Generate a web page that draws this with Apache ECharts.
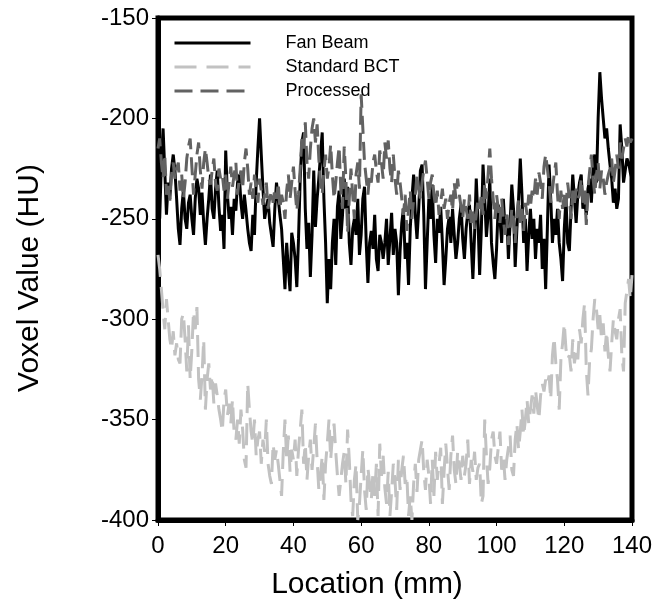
<!DOCTYPE html>
<html>
<head>
<meta charset="utf-8">
<script src="https://cdn.jsdelivr.net/npm/echarts@6/dist/echarts.min.js"></script>
<style>
  html, body { margin: 0; padding: 0; background: #fff; }
  #chart { width: 660px; height: 608px; }
</style>
</head>
<body>
<div id="chart"></div>
<script>
// sampling pitch of the line profile (mm); 281 samples from 0 to 140 mm
var step = 0.5;

var fanBeam = [
  -235, -250, -222, -205, -226, -248, -232, -240, -225, -218,
  -226, -240, -255, -263, -245, -236, -250, -255, -242, -238,
  -250, -258, -240, -230, -235, -248, -237, -252, -263, -250,
  -240, -228, -245, -250, -235, -226, -244, -256, -248, -265,
  -216, -238, -250, -244, -258, -240, -246, -232, -228, -242,
  -250, -238, -246, -255, -262, -266, -248, -258, -232, -215,
  -200, -218, -235, -250, -245, -240, -252, -258, -264, -245,
  -232, -240, -248, -255, -270, -285, -262, -275, -286, -257,
  -262, -270, -284, -260, -230, -212, -207, -245, -265, -252,
  -279, -258, -226, -254, -240, -230, -218, -207, -240, -262,
  -292, -270, -285, -262, -250, -273, -244, -236, -260, -248,
  -230, -245, -234, -262, -273, -255, -250, -258, -240, -268,
  -258, -240, -234, -262, -282, -262, -256, -265, -248, -270,
  -276, -258, -262, -270, -262, -250, -273, -260, -247, -268,
  -255, -262, -288, -266, -252, -245, -270, -262, -283, -255,
  -240, -228, -248, -260, -245, -226, -223, -248, -285, -262,
  -240, -250, -233, -258, -272, -250, -257, -244, -262, -283,
  -270, -255, -249, -262, -245, -258, -270, -262, -250, -243,
  -260, -270, -255, -247, -243, -262, -280, -258, -230, -250,
  -278, -255, -223, -240, -259, -248, -230, -262, -272, -280,
  -265, -243, -250, -262, -240, -255, -248, -270, -252, -233,
  -245, -274, -255, -240, -220, -238, -262, -250, -276, -258,
  -245, -260, -250, -270, -255, -262, -248, -275, -260, -285,
  -255, -223, -240, -262, -250, -258, -245, -262, -270, -281,
  -255, -240, -262, -266, -245, -228, -240, -252, -238, -232,
  -228, -245, -240, -248, -235, -230, -242, -225, -218, -232,
  -200, -177, -190, -200, -210, -205, -215, -223, -230, -242,
  -235, -245, -240, -203, -215, -232, -226, -220, -222, -227,
  -230
];

var standardBCT = [
  -268, -275, -285, -296, -305, -290, -300, -310, -315, -306,
  -318, -312, -320, -322, -300, -297, -310, -326, -303, -330,
  -315, -296, -305, -294, -330, -340, -328, -310, -345, -330,
  -322, -335, -328, -342, -332, -338, -345, -350, -356, -340,
  -335, -348, -342, -352, -340, -357, -360, -350, -362, -345,
  -355, -370, -374, -332, -345, -356, -362, -350, -368, -360,
  -356, -372, -360, -366, -350, -372, -378, -382, -362, -370,
  -365, -372, -380, -388, -366, -350, -370, -358, -376, -365,
  -370, -360, -378, -365, -355, -345, -372, -362, -380, -368,
  -360, -375, -364, -352, -370, -385, -378, -368, -390, -372,
  -362, -350, -370, -358, -352, -366, -378, -388, -380, -372,
  -366, -382, -355, -370, -390, -398, -380, -372, -400, -392,
  -378, -365, -385, -395, -374, -382, -390, -376, -388, -372,
  -398, -362, -378, -368, -384, -392, -376, -398, -386, -372,
  -380, -395, -370, -385, -375, -368, -382, -378, -398, -388,
  -400, -382, -372, -386, -370, -365, -360, -376, -385, -370,
  -378, -392, -370, -388, -366, -380, -372, -364, -392, -376,
  -362, -374, -385, -368, -358, -375, -382, -366, -372, -380,
  -368, -378, -372, -360, -382, -370, -376, -366, -380, -374,
  -372, -392, -388, -350, -368, -382, -374, -360, -356, -368,
  -372, -364, -356, -375, -368, -380, -370, -364, -358, -375,
  -378, -360, -352, -365, -356, -345, -358, -350, -340, -352,
  -345, -338, -347, -335, -343, -350, -338, -332, -336, -330,
  -333, -328, -340, -318, -309, -322, -330, -345, -320, -312,
  -302, -315, -320, -318, -326, -310, -322, -315, -320, -305,
  -312, -300, -292, -325, -338, -320, -315, -300, -290, -295,
  -305, -298, -310, -302, -316, -306, -318, -326, -312, -300,
  -306, -310, -300, -295, -318, -326, -292, -286, -280, -290,
  -278
];

var processed = [
  -215, -210, -222, -230, -218, -238, -232, -241, -228, -222,
  -230, -225, -222, -236, -228, -240, -232, -220, -214, -210,
  -224, -238, -228, -218, -212, -226, -235, -222, -215, -222,
  -230, -233, -226, -220, -232, -236, -225, -230, -228, -236,
  -228, -240, -232, -224, -234, -228, -222, -238, -230, -226,
  -235, -222, -215, -225, -238, -232, -240, -228, -235, -242,
  -230, -236, -243, -238, -232, -245, -240, -236, -242, -235,
  -240, -232, -245, -238, -242, -250, -236, -228, -240, -232,
  -224, -236, -246, -238, -225, -210, -215, -202, -222, -230,
  -215, -205, -200, -212, -203, -220, -232, -238, -226, -218,
  -230, -224, -213, -228, -240, -232, -222, -214, -236, -245,
  -214, -230, -257, -240, -225, -238, -250, -228, -222, -235,
  -188, -205, -222, -230, -238, -228, -232, -222, -218, -226,
  -232, -216, -222, -230, -212, -220, -211, -225, -232, -218,
  -230, -238, -226, -232, -240, -248, -238, -256, -245, -236,
  -250, -240, -238, -228, -235, -240, -232, -226, -221, -230,
  -240, -232, -228, -238, -244, -236, -248, -242, -235, -245,
  -240, -250, -242, -238, -246, -232, -240, -230, -238, -244,
  -250, -240, -245, -250, -238, -252, -246, -255, -248, -240,
  -245, -238, -248, -232, -240, -228, -215, -230, -240, -250,
  -238, -245, -252, -240, -250, -258, -248, -263, -255, -245,
  -250, -262, -248, -240, -252, -245, -256, -242, -248, -238,
  -244, -236, -240, -230, -238, -227, -232, -240, -224, -218,
  -225, -232, -242, -236, -228, -222, -238, -250, -236, -245,
  -238, -244, -232, -240, -250, -236, -242, -235, -240, -238,
  -230, -242, -236, -253, -235, -226, -218, -230, -238, -228,
  -222, -235, -226, -230, -238, -232, -228, -225, -220, -232,
  -226, -218, -225, -212, -220, -215, -210, -214, -208, -212,
  -210
];

function pairs(values) {
  return values.map(function (v, i) { return [i * step, v]; });
}

var dom = document.getElementById('chart');
var myChart = echarts.init(dom, null, { renderer: 'canvas' });

var font = 'Liberation Sans, Arial, sans-serif';

var option = {
  animation: false,
  backgroundColor: '#fff',
  textStyle: { fontFamily: font },
  legend: {
    orient: 'vertical',
    left: 168,
    top: 29,
    itemWidth: 76,
    itemHeight: 14,
    itemGap: 6,
    data: ['Fan Beam', 'Standard BCT', 'Processed'],
    itemStyle: { color: 'rgba(0,0,0,0)', borderWidth: 0 },
    lineStyle: { width: 3 },
    textStyle: { fontSize: 18, color: '#000', fontFamily: font, padding: [0, 0, 0, 30] }
  },
  grid: {
    left: 158,
    right: 28,
    top: 18,
    bottom: 88,
    show: true,
    borderColor: '#000',
    borderWidth: 5
  },
  xAxis: {
    type: 'value',
    min: 0,
    max: 140,
    interval: 20,
    name: 'Location (mm)',
    nameLocation: 'middle',
    nameGap: 50,
    nameTextStyle: { fontSize: 30, color: '#000', fontFamily: font, padding: [0, 56, 0, 0] },
    axisLine: { show: true, lineStyle: { color: '#000', width: 5 } },
    axisTick: { show: true, inside: false, length: 6, lineStyle: { color: '#000', width: 1 } },
    axisLabel: { fontSize: 24, color: '#000', margin: 14, fontFamily: font },
    splitLine: { show: false }
  },
  yAxis: {
    type: 'value',
    min: -400,
    max: -150,
    interval: 50,
    name: 'Voxel Value (HU)',
    nameLocation: 'middle',
    nameRotate: 90,
    nameGap: 113,
    nameTextStyle: { fontSize: 30, color: '#000', fontFamily: font, padding: [0, 18, 0, 0] },
    axisLine: { show: true, lineStyle: { color: '#000', width: 5 } },
    axisTick: { show: true, inside: false, length: 6, lineStyle: { color: '#000', width: 1 } },
    axisLabel: { fontSize: 24, color: '#000', margin: 9, fontFamily: font },
    splitLine: { show: false }
  },
  series: [
    {
      name: 'Standard BCT',
      type: 'line',
      data: pairs(standardBCT),
      symbol: 'none',
      lineStyle: { color: '#c2c2c2', width: 3, type: [22, 10] },
      itemStyle: { color: '#c2c2c2' }
    },
    {
      name: 'Fan Beam',
      type: 'line',
      data: pairs(fanBeam),
      symbol: 'none',
      lineStyle: { color: '#000', width: 3 },
      itemStyle: { color: '#000' }
    },
    {
      name: 'Processed',
      type: 'line',
      data: pairs(processed),
      symbol: 'none',
      lineStyle: { color: '#626262', width: 3, type: [18, 8] },
      itemStyle: { color: '#626262' }
    }
  ]
};

if (option && typeof option === 'object') {
  myChart.setOption(option);
}

window.addEventListener('resize', myChart.resize);
</script>
</body>
</html>
